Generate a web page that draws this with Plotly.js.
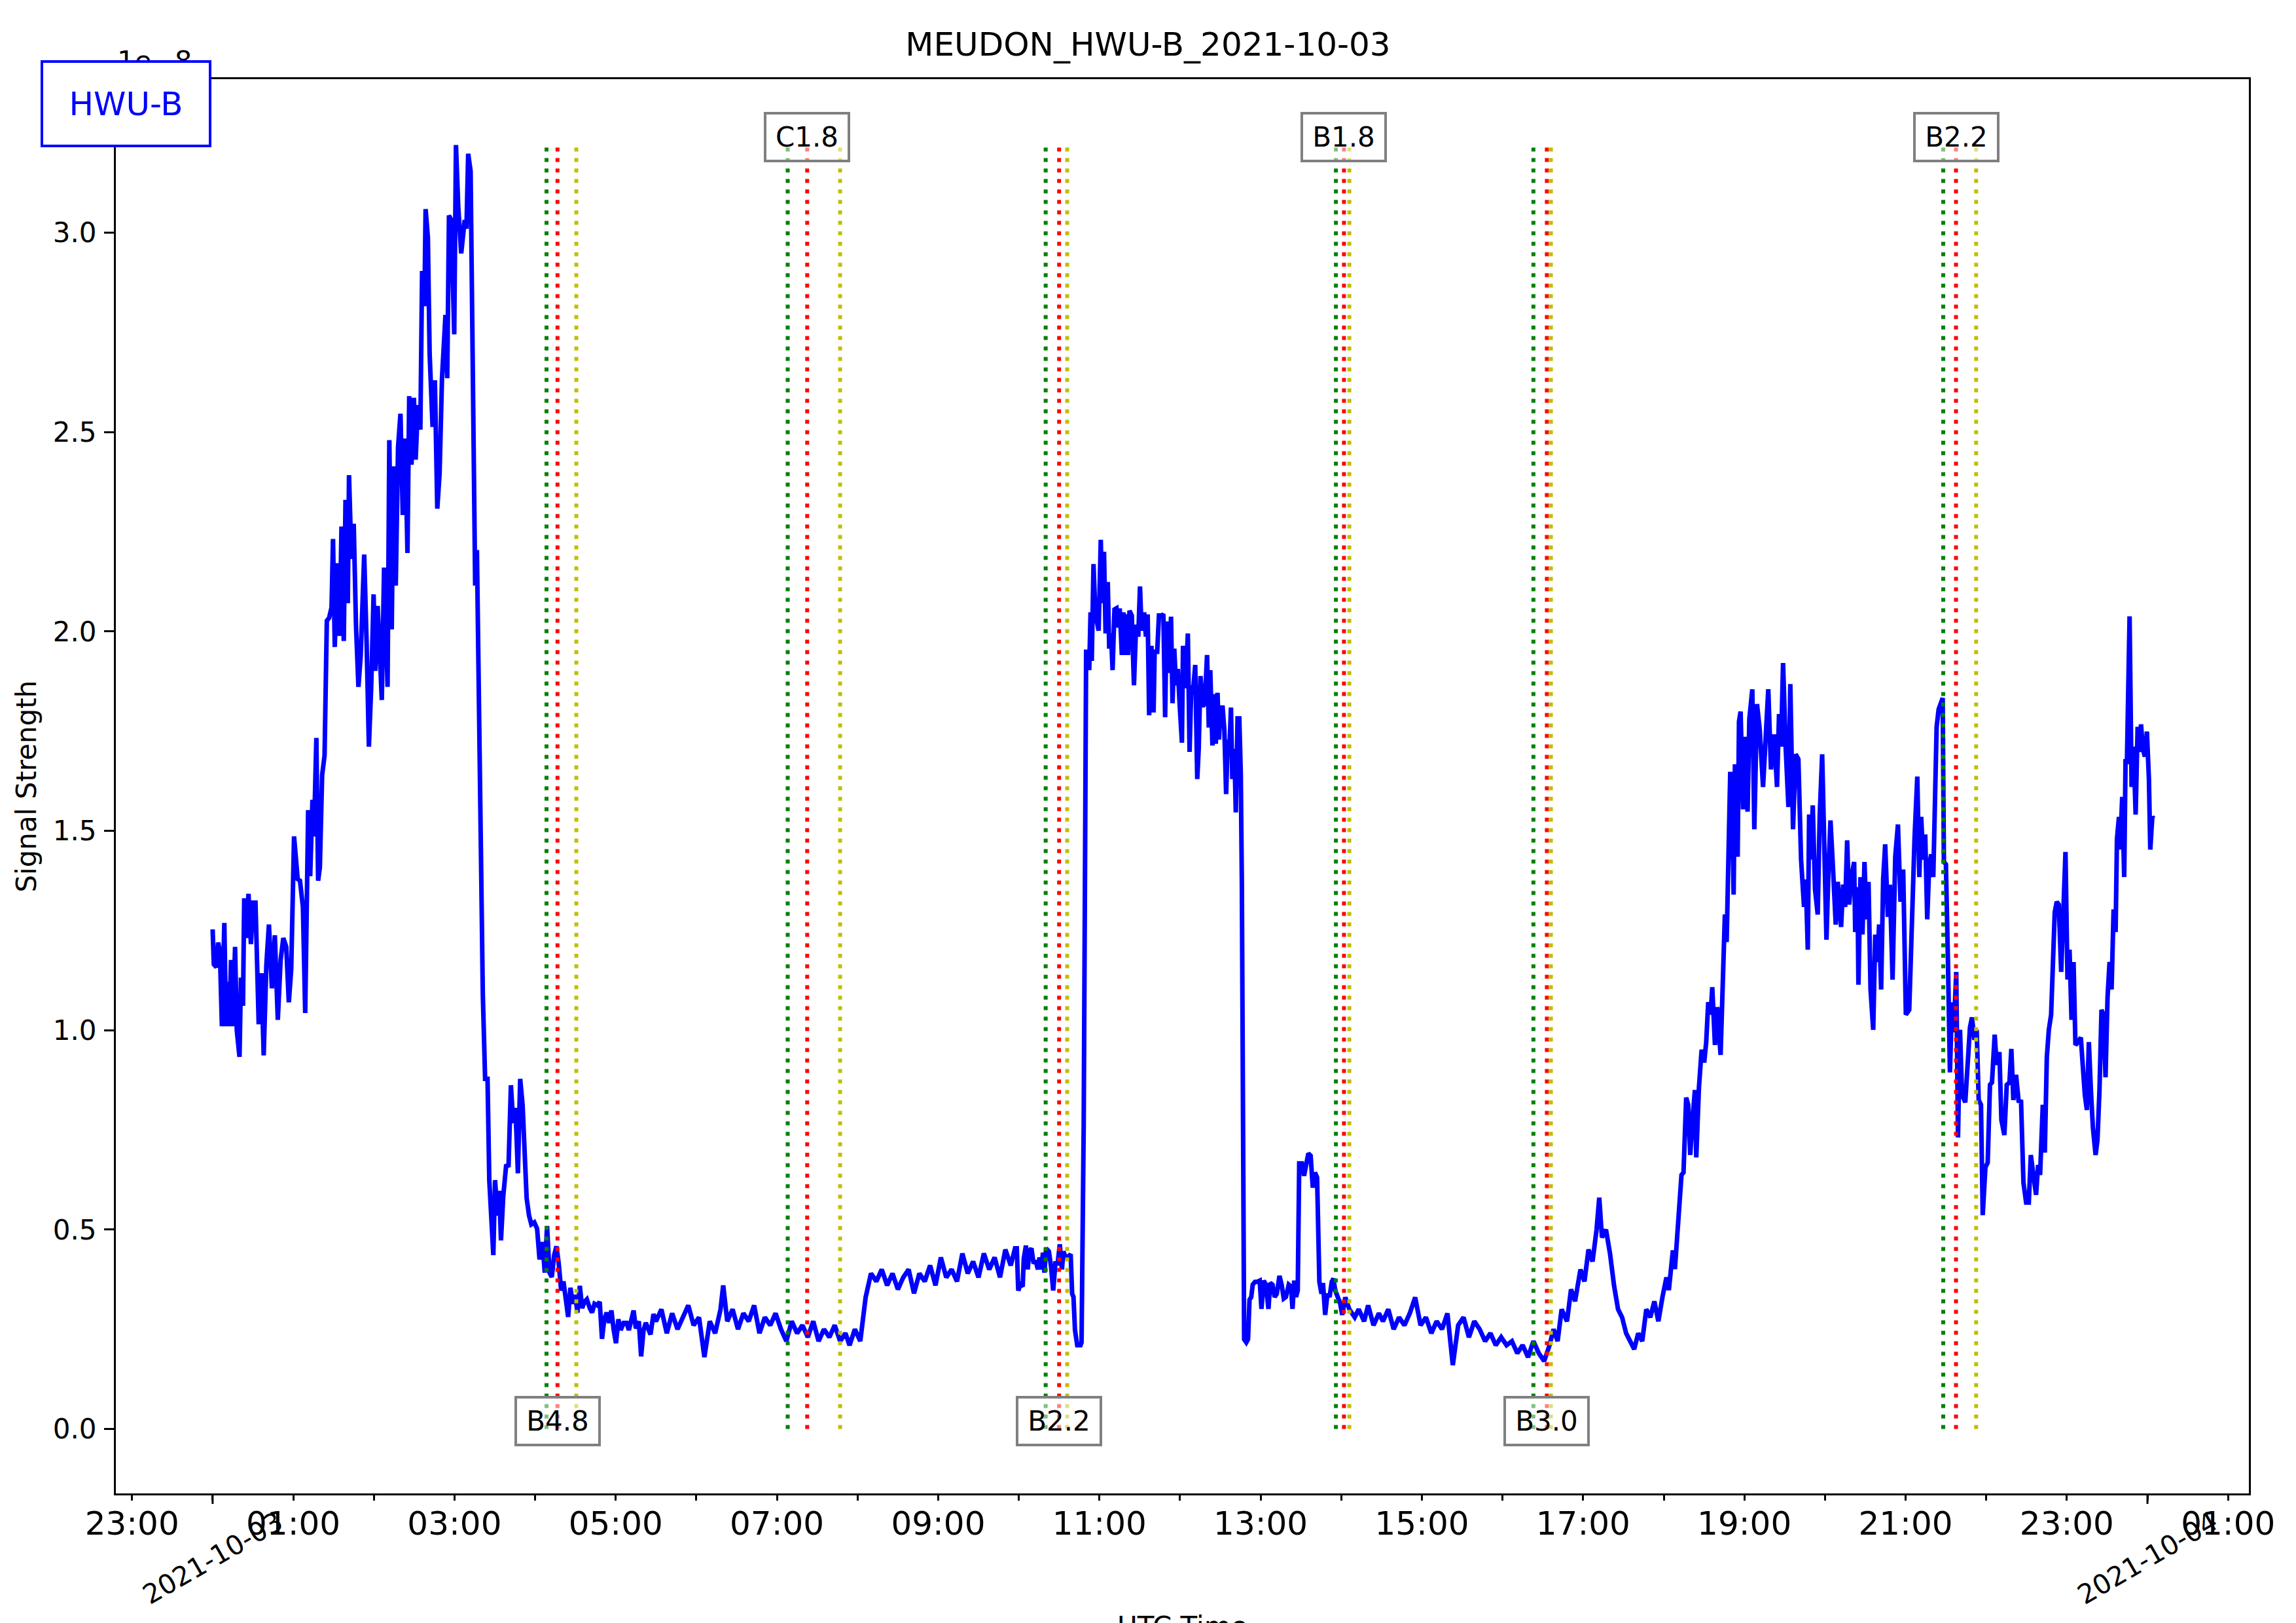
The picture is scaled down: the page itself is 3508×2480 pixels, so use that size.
<!DOCTYPE html>
<html><head><meta charset="utf-8">
<script src="https://cdn.plot.ly/plotly-3.0.1.min.js"></script>
<style>html,body{margin:0;padding:0;background:#fff;} #chart{width:3508px;height:2480px;}</style>
</head><body><div id="chart"></div>
<script>
// ---- data: minutes after 2021-10-03 00:00 UTC, signal strength in units of 1e-8 ----
const minutesA = [0,0.9,2.8,4.1,5.4,6.9,8.7,10.0,11.5,12.4,13.7,15.0,16.7,18.0,20.0,21.1,22.6,23.5,25.0,26.7,28.5,30.2,31.9,34.3,36.3,38.0,40.0,41.9,44.1,46.3,48.5,50.6,52.6,54.8,56.7,58.5,60.6,63.3,65.0,67.2,68.9,71.1,72.6,74.3,75.4,77.2,78.5,79.8,81.5,83.3,85.0,86.7,88.5,89.6,90.9,92.8,94.6,95.9,97.6,98.9,100.6,101.5,103.3,105.0,106.7,108.5,110.2,112.8,114.6,116.3,118.0,119.8,121.1,122.8,124.1,125.9,127.6,128.9,130.2,131.5,133.3,134.6,136.3,138.0,139.8,141.5,143.3,145.0,146.3,148.0,149.8,151.1,152.8,154.6,155.9,157.6,158.5,160.2,161.5,163.7,165.4,167.2,168.9,170.7,172.4,173.3,174.6,175.9,177.6,179.8,181.1,182.8,185.0,186.3,187.6,188.9,190.2,192.0,193.3,194.1,195.4,196.7,198.1,199.8,201.1,202.8,204.6,205.9,207.6,208.9,210.2,212.0,213.3,214.6,216.3,218.5,220.2,222.0,223.7,225.4,227.2,228.9,230.7,232.4,233.7,235.5,237.2,239.4,241.5,243.3,245.5,247.2,248.9,250.7,252.4,254.2,255.9,257.6,259.4,261.1,262.8,264.6,266.3,268.1,269.8,271.5,273.3,275.0,276.8,278.5,280.7,282.4,284.2,286.3,288.1,289.8,291.5,293.3,295.0,296.8,298.5,300.2,302.0,303.7,305.9,308.1,309.8,311.5,313.3,315.0,317.2,318.9,320.7,322.4,324.2,325.9,328.1];
const valuesA = [1.253,1.165,1.158,1.220,1.198,1.010,1.269,1.010,1.121,1.010,1.176,1.010,1.209,0.999,0.933,1.132,1.061,1.331,1.231,1.342,1.216,1.320,1.320,1.015,1.143,0.937,1.165,1.265,1.105,1.238,1.026,1.176,1.231,1.209,1.070,1.154,1.486,1.379,1.375,1.309,1.043,1.552,1.386,1.578,1.486,1.733,1.375,1.408,1.640,1.689,2.027,2.034,2.060,2.232,1.961,2.171,1.989,2.263,1.976,2.330,2.071,2.392,2.182,2.270,2.016,1.861,1.939,2.193,1.972,1.711,1.861,2.093,1.901,2.064,1.972,1.828,2.160,1.983,1.861,2.480,2.005,2.414,2.115,2.462,2.546,2.292,2.484,2.197,2.590,2.418,2.586,2.431,2.568,2.506,2.904,2.816,3.059,2.988,2.697,2.513,2.630,2.308,2.396,2.635,2.767,2.794,2.635,3.043,3.032,2.745,3.220,3.066,2.948,2.988,3.032,3.010,3.198,3.154,2.834,2.613,2.115,2.204,1.773,1.320,1.088,0.878,0.878,0.624,0.502,0.436,0.624,0.535,0.597,0.473,0.584,0.663,0.657,0.862,0.767,0.805,0.641,0.878,0.812,0.679,0.579,0.535,0.513,0.518,0.502,0.425,0.469,0.392,0.509,0.392,0.381,0.436,0.458,0.414,0.347,0.370,0.325,0.281,0.354,0.314,0.336,0.292,0.359,0.303,0.319,0.325,0.303,0.292,0.314,0.310,0.319,0.226,0.275,0.292,0.266,0.297,0.248,0.215,0.275,0.248,0.266,0.266,0.248,0.270,0.297,0.252,0.270,0.182,0.248,0.266,0.252,0.237,0.288];

const minutesB = [330,334,338,342,346,350,354,358,362,366,370,374,378,380,383,387,391,395,399,403,407,411,415,419,423,427,431,435,439,443,447,451,455,459,463,467,471,474,478,482,486,490,494,498,502,506,510,514,518,522,526,530,534,538,542,546,550,554,558,562,566,570,574,578,582,586,590,594];
const valuesB = [0.27,0.30,0.24,0.29,0.25,0.28,0.31,0.26,0.28,0.18,0.27,0.24,0.30,0.36,0.27,0.30,0.25,0.29,0.27,0.31,0.24,0.28,0.26,0.29,0.25,0.22,0.27,0.24,0.26,0.23,0.27,0.22,0.25,0.23,0.26,0.22,0.24,0.21,0.25,0.22,0.33,0.39,0.37,0.40,0.36,0.39,0.35,0.38,0.40,0.34,0.39,0.37,0.41,0.36,0.43,0.38,0.40,0.37,0.44,0.39,0.42,0.38,0.44,0.40,0.43,0.38,0.45,0.41];

const minutesC = [597.2,598.5,599.6,601.3,602.9,603.7,605.3,606.6,607.8,609.4,611.0,612.6,614.2,615.4,616.7,618.0,619.1,620.3,622.4,624.0,625.6,627.2,628.9,630.5,632.1,633.2,634.9,637.0,638.6,639.7,640.7,641.8,643.5,645.9,646.7,648.3,649.2,650.1,651.3,652.4,653.4,654.3,655.6,656.9,658.1,659.4,661.0,662.1,663.4,664.6,666.2,667.3,668.6,669.8,671.2,672.7,674.3,675.1,676.7,677.9,679.2,680.3,681.3,682.4,684.1,685.7,687.3,688.9,690.2,691.4,693.3,694.6,695.9,697.0,698.7,700.3,701.1,703.0,704.3,706.3,707.6,708.9,710.0,711.3,712.5,713.3,714.4,715.7,717.0,718.3,719.8,721.4,722.2,723.5,724.6,725.8,727.1,728.4,729.5,731.3,732.8,733.9,735.2,736.8,738.4,740.1,741.4,742.5,744.1,745.3,746.6,747.9,749.0,750.1,751.7,753.0,754.3,755.5,756.6,757.9,758.9,760.4,761.5,762.8,764.1,765.2,766.0,766.8,767.7,769.3,770.6,771.7,773.0,774.1,775.8,777.4,779.3,780.6,782.3,783.9,785.8,787.1,788.8,790.4,792.0,794.0,795.6,797.2,798.8,800.9,802.6,803.7,805.0,806.3,807.6,808.7,810.7,812.3,813.9,815.5,817.2,818.8,820.4,822.0,823.7,825.3,826.4,828.0,829.7,831.3,832.9,834.2,835.5,837.1,839.1,840.7];
const valuesC = [0.453,0.453,0.347,0.362,0.357,0.427,0.460,0.400,0.445,0.453,0.415,0.422,0.400,0.430,0.400,0.442,0.392,0.453,0.445,0.407,0.347,0.415,0.415,0.463,0.400,0.445,0.430,0.433,0.438,0.339,0.331,0.248,0.210,0.210,0.217,0.764,1.372,1.949,1.949,1.903,2.048,1.926,2.169,2.048,2.025,2.002,2.230,2.071,2.200,1.995,2.124,1.957,1.995,1.903,2.055,2.058,2.010,2.058,1.941,2.048,1.941,2.043,1.941,2.052,2.040,1.865,2.017,1.987,2.113,2.002,2.048,1.987,2.043,1.790,1.964,1.797,1.949,1.949,2.040,2.040,2.043,1.785,2.025,1.896,1.961,2.037,1.820,1.957,1.865,1.906,1.812,1.721,1.964,1.858,1.896,1.995,1.698,1.865,1.843,1.916,1.630,1.706,1.888,1.812,1.820,1.941,1.759,1.903,1.714,1.843,1.718,1.846,1.729,1.809,1.809,1.752,1.592,1.729,1.691,1.809,1.630,1.706,1.546,1.782,1.782,1.645,1.372,0.764,0.225,0.217,0.225,0.324,0.331,0.362,0.369,0.369,0.372,0.301,0.372,0.362,0.301,0.366,0.362,0.331,0.339,0.384,0.362,0.327,0.331,0.362,0.357,0.301,0.372,0.331,0.347,0.666,0.666,0.635,0.673,0.691,0.685,0.605,0.643,0.631,0.369,0.339,0.366,0.286,0.339,0.331,0.369,0.377,0.347,0.331,0.316,0.286];

const minutesD = [843,846,850,853,857,860,864,868,871,875,879,883,887,891,895,899,903,907,911,915,919,923,927,931,935,939,943,947,951,955,959,963,967,971,975,979,983,987,991,995,998,1001,1004,1008,1011,1014,1018,1021,1024,1027,1030,1032,1034,1037,1040,1043,1046,1049,1052,1055,1058,1061,1064,1067,1070,1073,1076,1079,1082];
const valuesD = [0.33,0.30,0.28,0.30,0.27,0.31,0.26,0.29,0.27,0.30,0.25,0.28,0.26,0.29,0.33,0.26,0.28,0.24,0.27,0.25,0.29,0.16,0.26,0.28,0.23,0.27,0.25,0.22,0.24,0.21,0.23,0.21,0.22,0.19,0.21,0.18,0.22,0.19,0.17,0.21,0.25,0.22,0.30,0.27,0.35,0.32,0.40,0.37,0.45,0.42,0.50,0.58,0.48,0.50,0.44,0.36,0.30,0.28,0.24,0.22,0.20,0.24,0.22,0.30,0.28,0.32,0.27,0.33,0.38];

const minutesE = [1083.8,1085.0,1086.8,1088.3,1089.8,1091.3,1093.2,1094.7,1096.7,1098.2,1099.7,1101.7,1103.2,1104.2,1106.2,1108.2,1110.1,1111.6,1113.1,1114.9,1116.1,1118.1,1119.8,1122.3,1124.1,1125.5,1126.8,1128.5,1129.5,1131.0,1132.0,1133.0,1135.0,1136.0,1137.2,1139.0,1140.5,1142.4,1143.7,1145.9,1147.4,1149.4,1151.4,1153.9,1155.9,1157.8,1159.8,1162.1,1164.3,1165.8,1167.3,1168.8,1170.8,1172.8,1174.2,1176.2,1178.2,1180.2,1182.2,1184.4,1185.7,1187.2,1188.2,1189.4,1190.9,1192.6,1194.6,1196.1,1197.9,1199.6,1201.1,1202.6,1204.1,1206.1,1208.0,1209.5,1212.0,1213.5,1215.0,1216.5,1218.0,1220.0,1221.7,1222.5,1224.2,1224.9,1226.4,1227.9,1229.4,1230.9,1232.4,1233.9,1235.9,1237.4,1238.9,1240.3,1241.8,1243.3,1244.8,1246.8,1248.3,1250.3,1252.3,1254.3,1256.2,1258.2,1260.2,1262.7,1265.2,1266.7,1268.7,1270.2,1271.6,1273.1,1274.6,1276.1,1277.6,1279.1,1280.6,1281.8,1283.1,1284.6,1286.1,1287.6,1288.5,1290.0,1291.5,1293.0,1294.5,1295.8,1297.7,1299.0,1300.5,1302.0,1304.4,1306.2,1307.9,1309.4,1311.2,1312.9,1314.4,1316.1,1317.4,1319.4,1321.1,1322.8,1324.3,1326.3,1327.8,1329.8,1331.3,1333.5,1335.3,1337.3,1338.7,1340.2,1342.2,1344.2,1345.9,1347.7,1349.7,1351.7,1353.2,1355.1,1357.1,1358.6,1360.1,1362.1,1363.6,1365.1,1366.6,1368.3,1369.6,1371.0,1372.5,1374.0,1375.8,1377.5,1379.0,1380.5,1382.0,1383.5,1385.0,1386.4,1388.4,1390.4,1391.9,1393.4,1394.9,1396.4,1397.9,1399.4,1401.4,1402.8,1404.3,1405.8,1407.3,1408.8,1410.3,1411.8,1413.3,1414.8,1416.3,1417.3,1418.8,1419.7,1421.2,1422.7,1423.7,1424.7,1426.7,1428.2,1429.7,1431.2,1432.7,1434.2,1435.2,1436.6,1438.1,1439.6,1441.1,1442.1,1443.6,1444.6];
const valuesE = [0.348,0.398,0.448,0.401,0.480,0.574,0.637,0.643,0.831,0.813,0.687,0.788,0.850,0.681,0.857,0.951,0.919,0.970,1.070,1.039,1.108,0.963,1.058,0.938,1.139,1.290,1.221,1.516,1.648,1.541,1.340,1.667,1.435,1.774,1.799,1.554,1.736,1.548,1.780,1.855,1.504,1.818,1.755,1.610,1.767,1.855,1.654,1.742,1.610,1.793,1.711,1.921,1.705,1.560,1.868,1.504,1.692,1.680,1.428,1.309,1.378,1.202,1.541,1.428,1.564,1.353,1.290,1.541,1.692,1.428,1.227,1.403,1.526,1.397,1.265,1.372,1.259,1.365,1.309,1.476,1.315,1.391,1.422,1.246,1.359,1.114,1.384,1.240,1.422,1.278,1.372,1.102,1.001,1.240,1.171,1.265,1.102,1.378,1.466,1.284,1.365,1.127,1.435,1.516,1.322,1.403,1.039,1.051,1.378,1.485,1.636,1.384,1.535,1.428,1.491,1.278,1.416,1.441,1.384,1.642,1.761,1.805,1.824,1.833,1.422,1.416,1.177,0.894,1.070,0.995,1.146,0.731,1.001,0.838,0.819,0.926,1.007,1.032,0.976,1.001,0.825,0.813,0.536,0.656,0.668,0.863,0.869,0.989,0.913,0.945,0.775,0.737,0.863,0.869,0.953,0.825,0.888,0.819,0.825,0.618,0.568,0.568,0.687,0.637,0.587,0.662,0.637,0.813,0.693,0.932,1.001,1.039,1.164,1.296,1.322,1.315,1.146,1.303,1.447,1.127,1.202,1.026,1.171,0.963,0.970,0.982,0.907,0.838,0.800,0.970,0.850,0.756,0.687,0.725,0.850,1.051,1.039,0.882,1.083,1.171,1.102,1.303,1.246,1.479,1.535,1.453,1.585,1.384,1.680,1.667,2.038,1.610,1.711,1.541,1.761,1.698,1.767,1.705,1.686,1.749,1.629,1.453,1.535,1.531];

// flares (UTC on 2021-10-03)
const flareClass = ['B4.8','C1.8','B2.2','B1.8','B3.0','B2.2'];
const flareStart = ['04:08:30','07:08:00','10:20:00','13:56:00','16:23:00','21:28:00'];
const flarePeak  = ['04:16:40','07:22:30','10:30:00','14:02:00','16:33:00','21:37:30'];
const flareEnd   = ['04:30:40','07:47:00','10:36:00','14:06:00','16:36:00','21:52:30'];

const dayLabels = ['2021-10-03','2021-10-04'];
const yTicks = [0,0.5,1.0,1.5,2.0,2.5,3.0];

// ---- build ----
function minToTime(m){
  const d = new Date(Date.UTC(2021,9,3) + Math.round(m*60000));
  return d.toISOString().replace('T',' ').slice(0,19);
}
const allMin = [].concat(minutesA,minutesB,minutesC,minutesD,minutesE);
const allVal = [].concat(valuesA,valuesB,valuesC,valuesD,valuesE);
const xs = allMin.map(minToTime);
const ymax = Math.max.apply(null, allVal);
const FONT = 'DejaVu Sans, Liberation Sans, sans-serif';

const traces = [{
  type:'scatter', mode:'lines', x: xs, y: allVal,
  line:{color:'#0000ff', width:7}, hoverinfo:'skip', showlegend:false
}];
function vl(times, color){
  const x=[], y=[];
  times.forEach(t=>{ const s='2021-10-03 '+t; x.push(s,s,null); y.push(0,ymax,null); });
  return {type:'scatter', mode:'lines', x:x, y:y, line:{color:color, width:6, dash:'6px,10px'}, hoverinfo:'skip', showlegend:false};
}
traces.push(vl(flareStart,'#008000'), vl(flarePeak,'#ff0000'), vl(flareEnd,'#bfbf00'));

const annotations = [];
// offset text
annotations.push({xref:'paper', yref:'paper', x:0, y:1.0125, xanchor:'left', yanchor:'middle',
  text:'1e\u22128', showarrow:false, font:{family:FONT, size:42, color:'#000'}});
// flare labels
flareClass.forEach((c,i)=>{
  const top = (i%2===1);
  annotations.push({xref:'x', yref:'y', x:'2021-10-03 '+flarePeak[i], y: top ? ymax+0.02 : 0.02,
    xanchor:'center', yanchor:'middle', text:c, showarrow:false,
    font:{family:FONT, size:42, color:'#000'}, bgcolor:'rgba(255,255,255,0.5)',
    bordercolor:'#808080', borderwidth:4, borderpad:4, width:116, height:61});
});
// station box
annotations.push({xref:'paper', yref:'paper', x:0.00476, y:0.98265, xanchor:'center', yanchor:'middle',
  text:'HWU-B', showarrow:false, font:{family:FONT, size:50, color:'#0000ff'},
  bgcolor:'#ffffff', bordercolor:'#0000ff', borderwidth:4, borderpad:4, width:245, height:117});
// y axis title
annotations.push({xref:'paper', yref:'paper', x:-0.0420, y:0.5, xanchor:'center', yanchor:'middle',
  text:'Signal Strength', textangle:-90, showarrow:false, font:{family:FONT, size:42, color:'#000'}});
// x axis title
annotations.push({xref:'paper', yref:'paper', x:0.5, y:-0.0944, xanchor:'center', yanchor:'middle',
  text:'UTC Time', showarrow:false, font:{family:FONT, size:42, color:'#000'}});
// date labels (rotated)
dayLabels.forEach(d=>{
  annotations.push({xref:'x', yref:'paper', x:d+' 00:00:00', y:-0.0458, xanchor:'center', yanchor:'middle',
    text:d, textangle:-30, showarrow:false, font:{family:FONT, size:41, color:'#000'}});
});

const shapes = dayLabels.map(d=>({type:'line', xref:'x', yref:'paper', ysizemode:'pixel', yanchor:0,
  x0:d+' 00:00:00', x1:d+' 00:00:00', y0:-2, y1:-16, line:{color:'#000', width:3}}));

const layout = {
  width:3508, height:2480,
  margin:{l:177, r:72, t:121, b:198, pad:0},
  paper_bgcolor:'#ffffff', plot_bgcolor:'#ffffff',
  font:{family:FONT, color:'#000'},
  title:{text:'MEUDON_HWU-B_2021-10-03', x:0.5, xref:'container', xanchor:'center', y:1-67/2480, yref:'container', yanchor:'middle',
    font:{family:FONT, size:50, color:'#000'}},
  xaxis:{type:'date', range:['2021-10-02 22:47:58','2021-10-04 01:15:29'],
    tickformat:'%H:%M', dtick:7200000, tick0:'2021-10-02 23:00:00',
    ticks:'outside', ticklen:8, tickwidth:3, tickcolor:'#000',
    minor:{dtick:3600000, tick0:'2021-10-02 23:00:00', ticks:'outside', ticklen:8, tickwidth:3, tickcolor:'#000', showgrid:false},
    showgrid:false, zeroline:false, showline:true, mirror:true, linecolor:'#000', linewidth:3,
    tickfont:{family:FONT, size:50, color:'#000'}, ticklabelstandoff:-8},
  yaxis:{range:[-0.1617,3.385], tickmode:'array', tickvals:yTicks, ticktext:yTicks.map(v=>v.toFixed(1)),
    ticks:'outside', ticklen:15, tickwidth:3, tickcolor:'#000',
    showgrid:false, zeroline:false, showline:true, mirror:true, linecolor:'#000', linewidth:3,
    tickfont:{family:FONT, size:42, color:'#000'}, ticklabelstandoff:3},
  annotations: annotations, shapes: shapes, showlegend:false
};
Plotly.newPlot('chart', traces, layout, {staticPlot:true});
</script></body></html>
